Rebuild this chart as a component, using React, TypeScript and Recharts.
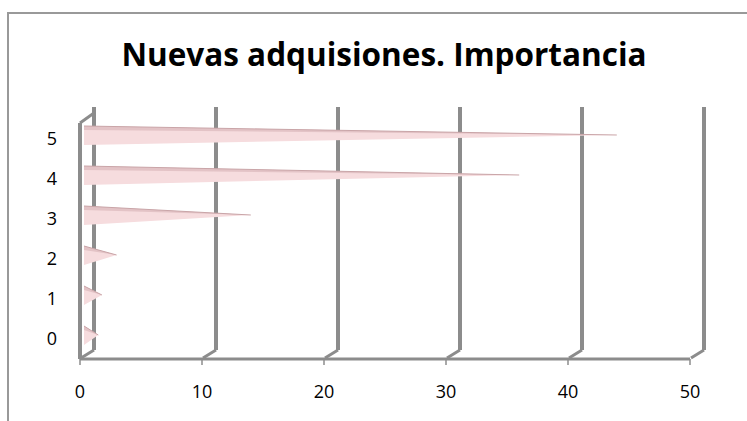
import React from 'react';
import { BarChart, Bar, XAxis, YAxis, CartesianGrid } from 'recharts';

const categories = ['0', '1', '2', '3', '4', '5'];
const counts = [1.5, 1.8, 3, 14, 36, 44];
const xTicks = [0, 10, 20, 30, 40, 50];

const rows = categories.map((cat, i) => ({ cat, value: counts[i] }));

const FONT = '"Open Sans", "Liberation Sans", sans-serif';
const GRID = '#8c8c8c';
const DX = 14;

// 3D-ish back wall line: a vertical on the back plane plus a short diagonal to the floor
const GridLine = (props: any) => {
  const { x1, y1, y2, index } = props;
  const x = x1;
  return (
    <g key={`grid-${index}`}>
      <line x1={x + DX} y1={y1 - 12} x2={x + DX} y2={y2 - 9} stroke={GRID} strokeWidth={4} />
      <line x1={x + 1} y1={y2 - 1} x2={x + DX} y2={y2 - 9} stroke={GRID} strokeWidth={3} />
      {index === 0 && (
        <>
          <line x1={x} y1={y1 + 4} x2={x} y2={y2} stroke={GRID} strokeWidth={4} />
          <line x1={x} y1={y1 + 4} x2={x + DX} y2={y1 - 6} stroke={GRID} strokeWidth={3} />
        </>
      )}
    </g>
  );
};

const Cone = (props: any) => {
  const { x, y, width, height } = props;
  const cy = y + height / 2;
  const bx = x + 4;
  const tx = x + width;
  if (tx <= bx) return null;
  return (
    <g>
      <polygon points={`${bx},${cy - 13} ${tx},${cy - 4} ${bx},${cy + 6}`} fill="#f6dcde" />
      <polygon points={`${bx},${cy - 13} ${tx},${cy - 4} ${bx},${cy - 9}`} fill="#e3c3c6" />
      <line x1={bx} y1={cy - 13} x2={tx} y2={cy - 4} stroke="#c9a5a8" strokeWidth={1} />
    </g>
  );
};

const App = () => {
  return (
    <div
      style={{
        position: 'absolute',
        left: 0,
        top: 0,
        width: 747,
        height: 421,
        overflow: 'hidden',
        background: '#fff',
      }}
    >
      <div
        style={{
          position: 'absolute',
          left: 7,
          top: 12,
          width: 800,
          height: 500,
          border: '2px solid #999',
        }}
      />
      <svg width={747} height={421} style={{ position: 'absolute', left: 0, top: 0 }}>
        <text
          x={384}
          y={66}
          textAnchor="middle"
          fontFamily={FONT}
          fontWeight="bold"
          fontSize={31.5}
          fill="#000"
        >
          Nuevas adquisiones. Importancia
        </text>
      </svg>
      <div style={{ position: 'absolute', left: 0, top: 0 }}>
        <BarChart
          width={747}
          height={421}
          layout="vertical"
          data={rows}
          margin={{ top: 119, right: 57, bottom: 32, left: 40 }}
        >
          <CartesianGrid horizontal={false} vertical={GridLine} />
          <XAxis
            type="number"
            domain={[0, 50]}
            ticks={xTicks}
            interval={0}
            height={30}
            axisLine={{ stroke: GRID, strokeWidth: 3 }}
            tickLine={{ stroke: GRID, strokeWidth: 1.5 }}
            tickSize={6}
            tickMargin={20}
            tick={{ fill: '#000', fontSize: 18, fontFamily: FONT }}
          />
          <YAxis
            type="category"
            dataKey="cat"
            reversed
            width={40}
            axisLine={false}
            tickLine={false}
            tickMargin={17}
            tick={{ fill: '#000', fontSize: 18, fontFamily: FONT }}
          />
          <Bar dataKey="value" barSize={20} shape={<Cone />} isAnimationActive={false} />
        </BarChart>
      </div>
    </div>
  );
};

export default App;
